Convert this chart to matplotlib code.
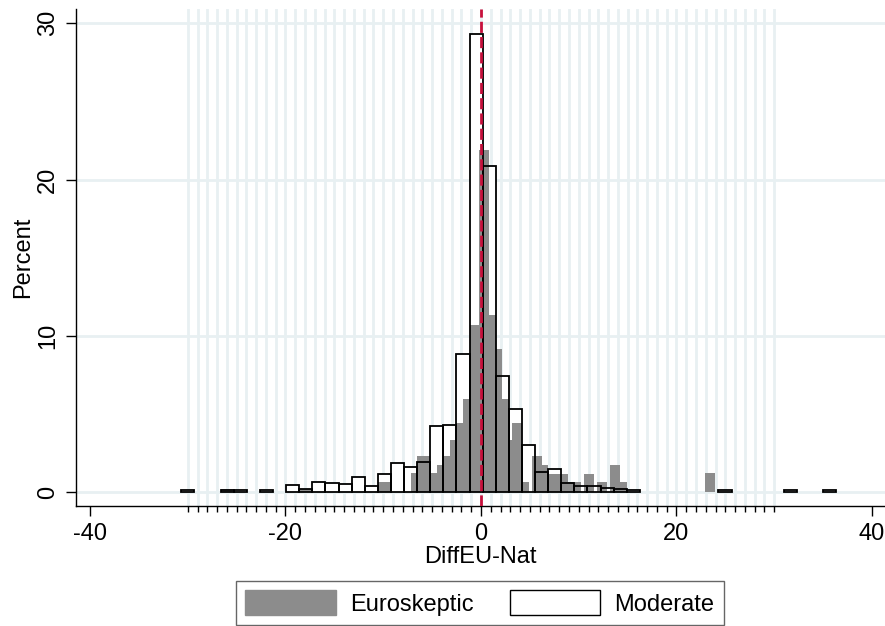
import numpy as np
import matplotlib
matplotlib.use("Agg")
import matplotlib.pyplot as plt
from matplotlib.patches import Patch

plt.rcParams['font.family'] = ['Liberation Sans', 'DejaVu Sans']
plt.rcParams['axes.unicode_minus'] = False

# Moderate histogram: 50 bins
mod_start = -30.65
mod_width = 1.34
mod_heights = [0.1, 0, 0, 0.15, 0.1, 0, 0.1, 0, 0.43, 0.2,
               0.66, 0.58, 0.49, 0.98, 0.4, 1.15, 1.88, 1.62, 1.94, 4.22,
               4.29, 8.83, 29.3, 20.9, 7.43, 5.29, 3.0, 1.3, 1.47, 0.6,
               0.4, 0.4, 0.23, 0.17, 0.1, 0, 0, 0, 0, 0,
               0, 0.1, 0, 0, 0, 0, 0.1, 0, 0, 0.1]

# Euroskeptic histogram, read on a fine grid (bin width 0.335)
euro_start = -26.63
euro_width = 0.335
euro_heights = ([0.2]*4 + [0]*20 + [0.2]*4 + [0]*20 + [0.66]*4 + [0]*6 +
                [1.2, 1.2, 2.3, 2.3, 2.3, 2.3, 1.2, 1.2, 1.73, 1.73,
                 2.3, 2.3, 3.33, 3.33, 4.4, 4.4, 5.93, 5.93, 10.7, 10.7,
                 10.7, 21.9, 21.9, 21.9, 11.3, 11.3, 9.15, 9.15, 5.93, 5.93,
                 3.33, 4.4, 4.4, 4.4, 0.66, 0.66, 0, 2.3, 2.3, 2.3,
                 1.73, 1.73, 1.15, 1.15, 1.15, 1.15, 1.15, 1.15, 0.66, 0.66,
                 0.66, 0.66, 0, 1.15, 1.15, 1.15, 0, 0.66, 0.66, 0.66,
                 0, 1.73, 1.73, 1.73, 0.66, 0.66] +
                [0]*24 + [1.2, 1.2, 1.2])

fig = plt.figure(figsize=(8.85, 6.26), dpi=100)
ax = fig.add_axes([76/885, 1-506/626, 1-76/885, (506-9)/626])
ax.set_xlim(-41.43, 41.33)
ax.set_ylim(-0.9, 30.92)

grid_c = '#e8f0f2'
for v in range(-30, 31):
    ax.axvline(v, color=grid_c, lw=2.0, zorder=0)
for v in [0, 10, 20, 30]:
    ax.axhline(v, color=grid_c, lw=2.0, zorder=0)

mod_left = mod_start + mod_width*np.arange(len(mod_heights))
euro_left = euro_start + euro_width*np.arange(len(euro_heights))

ax.bar(mod_left, mod_heights, width=mod_width, align='edge', color='white',
       edgecolor='none', zorder=1)
ax.bar(euro_left, euro_heights, width=euro_width*1.01, align='edge', color='#8c8c8c',
       edgecolor='none', lw=0, zorder=2)
mh = np.array(mod_heights)
mask = mh > 0
ax.bar(mod_left[mask], mh[mask], width=mod_width, align='edge', fill=False,
       edgecolor='black', lw=1.3, zorder=3)

ax.axvline(0, color='#c8103c', lw=2.0, ls=(0, (4, 1.5)), zorder=4)

for s in ['top', 'right']:
    ax.spines[s].set_visible(False)
ax.spines['left'].set_linewidth(1.0)
ax.spines['bottom'].set_linewidth(1.0)

ax.set_xticks([-40, -20, 0, 20, 40])
ax.set_xticks(np.arange(-30, 31), minor=True)
ax.set_yticks([0, 10, 20, 30])
ax.tick_params(axis='both', which='major', length=7, width=1.0, labelsize=17, pad=5)
ax.tick_params(axis='x', which='minor', length=4, width=1.0)
for lab in ax.get_yticklabels():
    lab.set_rotation(90)
    lab.set_va('center')
ax.set_xlabel('DiffEU-Nat', fontsize=17, labelpad=1)
ax.set_ylabel('Percent', fontsize=17, labelpad=2)

handles = [Patch(facecolor='#8c8c8c', edgecolor='#8c8c8c', label='Euroskeptic'),
           Patch(facecolor='white', edgecolor='black', lw=1.0, label='Moderate')]
leg = fig.legend(handles=handles, loc='lower center', bbox_to_anchor=(480/885, 1/626),
                 ncol=2, fontsize=17, frameon=True, fancybox=False,
                 handlelength=3.85, handleheight=1.2, columnspacing=1.5,
                 handletextpad=0.6, borderpad=0.4, borderaxespad=0)
leg.get_frame().set_edgecolor('#404040')
leg.get_frame().set_linewidth(1.0)

fig.savefig('out.png', dpi=100)
